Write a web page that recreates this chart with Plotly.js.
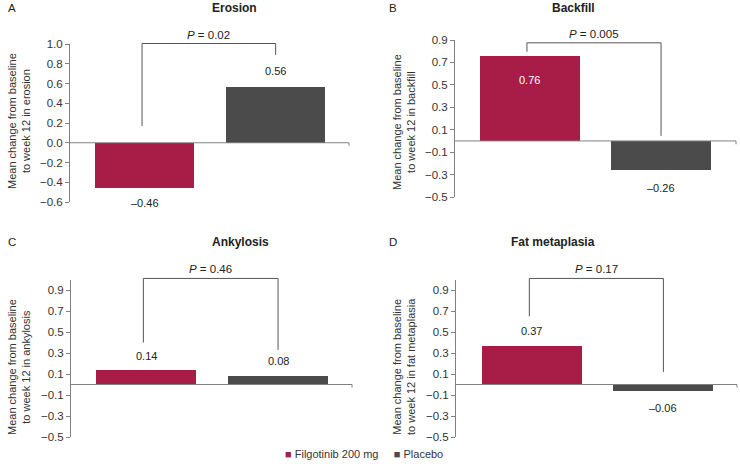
<!DOCTYPE html>
<html>
<head>
<meta charset="utf-8">
<script src="https://cdn.plot.ly/plotly-3.0.1.min.js"></script>
<style>html,body{margin:0;padding:0;background:#fff;}#chart{width:740px;height:476px;}</style>
</head>
<body>
<div id="chart"></div>
<script>
// ---- data ----
const groups = ['Filgotinib 200 mg', 'Placebo'];
const panelLetters = ['A', 'B', 'C', 'D'];
const panelTitles = ['Erosion', 'Backfill', 'Ankylosis', 'Fat metaplasia'];
const filgotinib = [-0.46, 0.76, 0.14, 0.37];
const placebo = [0.56, -0.26, 0.08, -0.06];
const pValues = ['0.02', '0.005', '0.46', '0.17'];
const yTitleLine2 = ['to week 12 in erosion', 'to week 12 in backfill', 'to week 12 in ankylosis', 'to week 12 in fat metaplasia'];
const yRanges = [[-0.6, 1.0], [-0.5, 0.9001], [-0.5, 1.0], [-0.5, 1.0]];
const yTick0 = [-0.6, -0.5, -0.5, -0.5];

// ---- styling / geometry (pixels) ----
const W = 740, H = 476;
const colors = ['#a81c48', '#4b4b4b'];
const fx = p => p / W, fy = p => 1 - p / H;
const geom = [
  {x0: 70, x1: 349, yb: 202, yt: 44, xr: [-0.57, 1.56], tx: 210, ty: 8, lx: 6, lyc: 121, ylx: 19},
  {x0: 455, x1: 736, yb: 197, yt: 40, xr: [-0.567, 1.57], tx: 597, ty: 8, lx: 387, lyc: 122, ylx: 404},
  {x0: 71, x1: 352, yb: 437, yt: 279.5, xr: [-0.568, 1.56], tx: 210, ty: 242, lx: 6, lyc: 367, ylx: 19},
  {x0: 456, x1: 737, yb: 437, yt: 279.5, xr: [-0.578, 1.56], tx: 597, ty: 242, lx: 387, lyc: 367, ylx: 404}
];
// bracket: [top, left bottom, right bottom] in data units
const brackets = [[1.005, 0.17, 0.89], [0.875, 0.795, 0.045], [1.01, 0.40, 0.33], [1.01, 0.65, 0.12]];
// label offsets (px, + = up) for the two bars
const labelShift = [[-15, 16], [-24, -18], [14, 15], [15, -17]];
const labelColor = [['#222', '#222'], ['#fff', '#222'], ['#222', '#222'], ['#222', '#222']];

const FAM = 'Liberation Sans, Arial, sans-serif';
const traces = [];
const layout = {
  width: W, height: H, margin: {l: 0, r: 0, t: 0, b: 0},
  paper_bgcolor: '#fff', plot_bgcolor: 'rgba(0,0,0,0)',
  showlegend: false, font: {family: FAM, size: 11, color: '#333'}, bargap: 0,
  annotations: [], shapes: []
};

for (let i = 0; i < 4; i++) {
  const g = geom[i];
  const sfx = i === 0 ? '' : String(i + 1);
  const xa = 'x' + sfx, ya = 'y' + sfx;
  const yr = yRanges[i];
  const dx = v => (v - g.xr[0]) / (g.xr[1] - g.xr[0]);   // category position -> x domain fraction
  const dy = v => (v - yr[0]) / (yr[1] - yr[0]);         // value -> y domain fraction
  const vals = [filgotinib[i], placebo[i]];
  groups.forEach((grp, k) => {
    traces.push({
      type: 'bar', x: [grp], y: [vals[k]], width: 0.76,
      marker: {color: colors[k], line: {width: 0}},
      xaxis: xa, yaxis: ya, name: grp, hoverinfo: 'skip'
    });
    const txt = (vals[k] < 0 ? '\u2013' : '') + Math.abs(vals[k]).toFixed(2);
    layout.annotations.push({
      xref: xa, yref: ya, x: k, y: vals[k], text: txt, showarrow: false,
      yanchor: 'middle', yshift: labelShift[i][k],
      font: {size: 11, color: labelColor[i][k], family: FAM}
    });
  });
  layout['xaxis' + sfx] = {
    domain: [fx(g.x0), fx(g.x1)], range: g.xr, anchor: ya,
    showticklabels: false, ticks: '', showline: false, showgrid: false, zeroline: false,
    type: 'category', categoryorder: 'array', categoryarray: groups, fixedrange: true
  };
  layout['yaxis' + sfx] = {
    domain: [fy(g.yb), fy(g.yt)], range: yr, anchor: xa,
    tick0: yTick0[i], dtick: 0.2, tickformat: '.1f',
    ticks: 'outside', ticklen: 4, tickcolor: '#808080', tickwidth: 1,
    showline: true, linecolor: '#808080', linewidth: 1,
    showgrid: false, zeroline: false, tickfont: {size: 11.5, color: '#333', family: FAM},
    fixedrange: true
  };
  // zero line across the plot
  layout.shapes.push({type: 'line', xref: xa + ' domain', yref: ya + ' domain', x0: 0, x1: 1, y0: dy(0), y1: dy(0),
    line: {color: '#808080', width: 1}});
  layout.shapes.push({type: 'line', xref: xa + ' domain', yref: ya + ' domain', x0: 1, x1: 1, y0: dy(0),
    y1: dy(-0.03), line: {color: '#808080', width: 1}});
  // significance bracket (domain refs so it is not clipped)
  const b = brackets[i];
  const xl = dx(-0.02), xrr = dx(1);
  layout.shapes.push({type: 'path', xref: xa + ' domain', yref: ya + ' domain',
    path: `M ${xl} ${dy(b[1])} L ${xl} ${dy(b[0])} L ${xrr} ${dy(b[0])} L ${xrr} ${dy(b[2])}`,
    line: {color: '#555', width: 1}});
  layout.annotations.push({xref: xa + ' domain', yref: ya + ' domain', x: dx(0.49), y: dy(b[0]), yanchor: 'bottom', yshift: 1,
    text: '<i>P</i> = ' + pValues[i], showarrow: false, font: {size: 11.5, color: '#222', family: FAM}});
  // titles and letters
  layout.annotations.push({xref: 'paper', yref: 'paper', x: fx(g.tx), y: fy(g.ty), yanchor: 'middle',
    text: '<b>' + panelTitles[i] + '</b>', showarrow: false, font: {size: 12, color: '#222', family: FAM}});
  layout.annotations.push({xref: 'paper', yref: 'paper', x: fx(g.lx), y: fy(g.ty), xanchor: 'left', yanchor: 'middle',
    text: panelLetters[i], showarrow: false, font: {size: 11.5, color: '#222', family: FAM}});
  // y-axis title
  layout.annotations.push({xref: 'paper', yref: 'paper', x: fx(g.ylx), y: fy(g.lyc), textangle: -90,
    xanchor: 'center', yanchor: 'middle',
    text: 'Mean change from baseline<br>' + yTitleLine2[i], showarrow: false,
    font: {size: 11, color: '#333', family: FAM}});
}

// legend (drawn as an annotation from the series names/colours)
layout.annotations.push({xref: 'paper', yref: 'paper', x: fx(283), y: fy(454), xanchor: 'left', yanchor: 'middle',
  showarrow: false, font: {size: 11, color: '#333', family: FAM},
  text: groups.map((gname, k) => `<span style="color:${colors[k]}">\u25A0</span> ${gname}`).join('&nbsp;&nbsp;&nbsp;&nbsp;&nbsp;')});

Plotly.newPlot('chart', traces, layout, {displayModeBar: false, staticPlot: true});
</script>
</body>
</html>
